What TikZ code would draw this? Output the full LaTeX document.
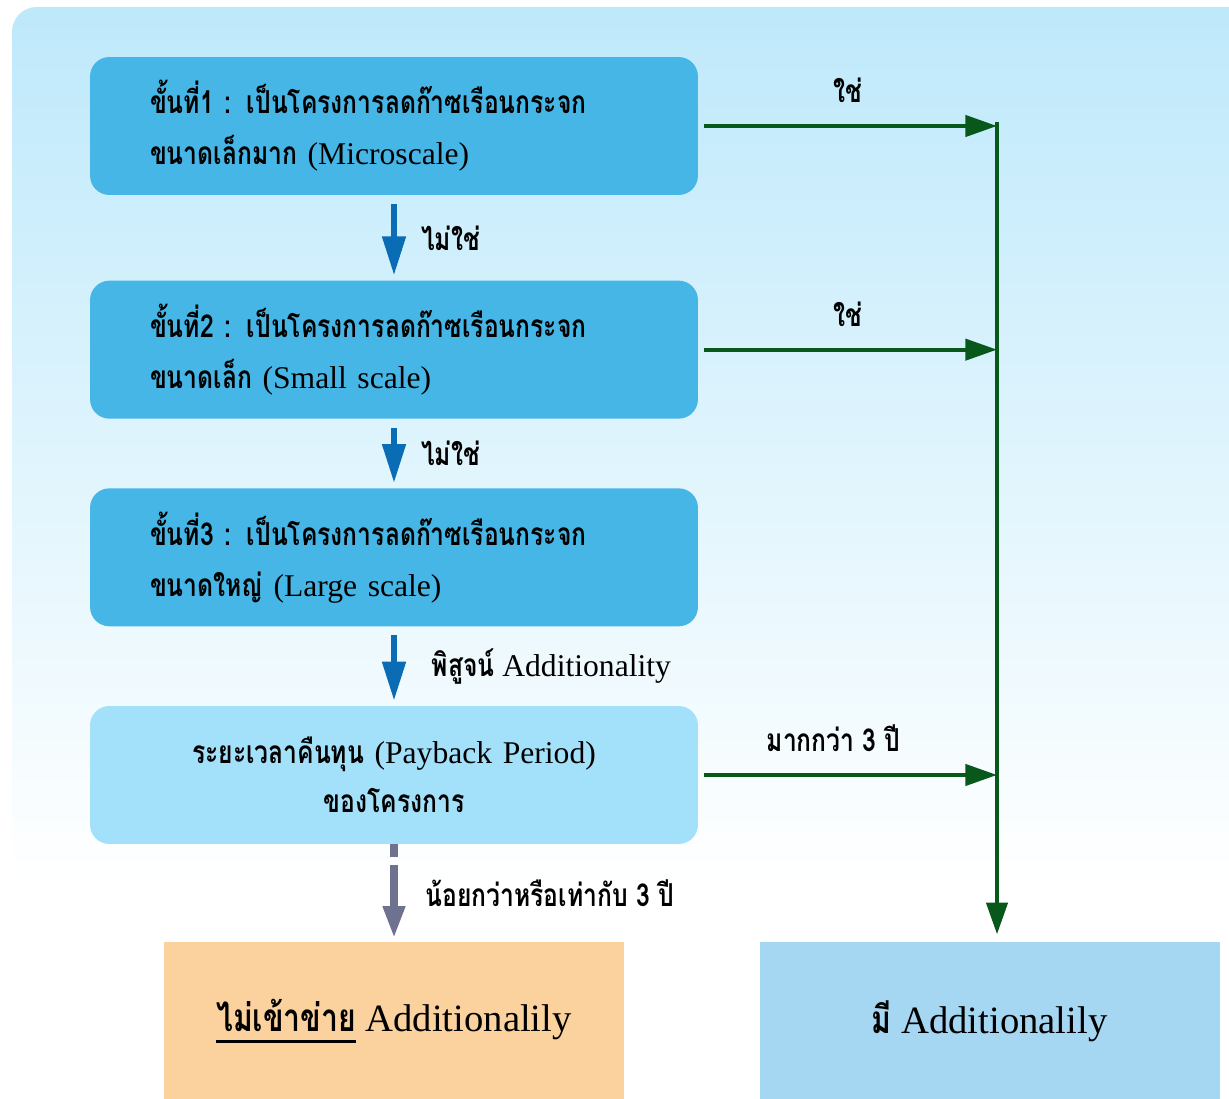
\documentclass[tikz,border=0pt]{standalone}
\usepackage{fontspec}
\setmainfont{Liberation Serif}
\newfontfamily\thai[Script=Thai,FakeStretch=0.78]{Loma}
\usetikzlibrary{arrows.meta,positioning}

\definecolor{bgblue}{RGB}{190,233,251}
\definecolor{stepblue}{RGB}{70,182,230}
\definecolor{payblue}{RGB}{163,224,250}
\definecolor{noorange}{RGB}{251,210,158}
\definecolor{yesblue}{RGB}{165,214,242}
\definecolor{arrowblue}{RGB}{10,108,180}
\definecolor{yesgreen}{RGB}{8,88,28}
\definecolor{dashgray}{RGB}{110,113,144}

\newcommand\thtxt[1]{{\thai\bfseries #1}}
\newcommand\thunderline[1]{\setbox0\hbox{#1}\rlap{\rule[-7pt]{\wd0}{1.7pt}}\box0\relax}

\begin{document}
\begin{tikzpicture}
  [x=0.02cm,y=-0.02cm,
    stepbox/.style={rectangle,rounded corners=11pt,fill=stepblue,minimum width=12.16cm,
      minimum height=2.76cm,text width=9.76cm,align=left,font=\fontsize{18}{29}\selectfont},
    paybox/.style={stepbox,fill=payblue,align=center,font=\fontsize{18}{28}\selectfont},
    endbox/.style={rectangle,minimum width=9.2cm,minimum height=3.18cm,font=\fontsize{22}{26}\selectfont},
    lbl/.style={font=\fontsize{18}{22}\selectfont,inner sep=2pt},
    downarrow/.style={draw=arrowblue,line width=3pt,-{Triangle[length=22pt,width=13pt]},
      shorten <=5pt,shorten >=3pt},
    dasharrow/.style={draw=dashgray,line width=4pt,-{Triangle[length=18pt,width=12pt]},
      dash pattern=on 7pt off 5pt on 80pt off 0pt,shorten >=2pt},
    yesarrow/.style={draw=yesgreen,line width=2.3pt,-{Triangle[length=18pt,width=12pt]},
      shorten <=3pt}]
  \useasboundingbox (0,0) rectangle (1229,1098);
  \shade[top color=bgblue,bottom color=white,rounded corners=14pt] (12,7) rectangle (1260,880);

  \node[stepbox] (s1) at (394,126)
    {\thtxt{ขั้นที่1 : เป็นโครงการลดก๊าซเรือนกระจก}\\\thtxt{ขนาดเล็กมาก} (Microscale)};
  \node[stepbox] (s2) [below=1.7cm of s1]
    {\thtxt{ขั้นที่2 : เป็นโครงการลดก๊าซเรือนกระจก}\\\thtxt{ขนาดเล็ก} (Small scale)};
  \node[stepbox] (s3) [below=1.38cm of s2]
    {\thtxt{ขั้นที่3 : เป็นโครงการลดก๊าซเรือนกระจก}\\\thtxt{ขนาดใหญ่} (Large scale)};
  \node[paybox] (pay) [below=1.58cm of s3]
    {\thtxt{ระยะเวลาคืนทุน} (Payback Period)\\\thtxt{ของโครงการ}};
  \node[endbox,fill=noorange] (no) [below=1.94cm of pay]
    {\thunderline{\thtxt{ไม่เข้าข่าย}} Additionalily};
  \node[endbox,fill=yesblue] (yes) [right=2.7cm of no]
    {\thtxt{มี} Additionalily};
  \coordinate (trunk) at (997,122);

  % down the steps
  \draw[downarrow] (s1) -- (s2) node[lbl,midway,right=12pt] {\thtxt{ไม่ใช่}};
  \draw[downarrow] (s2) -- (s3) node[lbl,midway,right=12pt] {\thtxt{ไม่ใช่}};
  \draw[downarrow] (s3) -- (pay) node[lbl,midway,right=18pt] {\thtxt{พิสูจน์} Additionality};
  \draw[dasharrow] (pay) -- (no) node[lbl,midway,right=14pt] {\thtxt{น้อยกว่าหรือเท่ากับ 3 ปี}};

  % yes branch
  \draw[yesarrow] (s1.east) -- (s1.east -| trunk) node[lbl,midway,above=10pt] {\thtxt{ใช่}};
  \draw[yesarrow] (s2.east) -- (s2.east -| trunk) node[lbl,midway,above=10pt] {\thtxt{ใช่}};
  \draw[yesarrow] (pay.east) -- (pay.east -| trunk) node[lbl,midway,above=10pt,xshift=-8pt] {\thtxt{มากกว่า 3 ปี}};
  \draw[yesarrow,shorten <=0pt,shorten >=4pt] (trunk) -- (trunk |- yes.north);
\end{tikzpicture}
\end{document}
